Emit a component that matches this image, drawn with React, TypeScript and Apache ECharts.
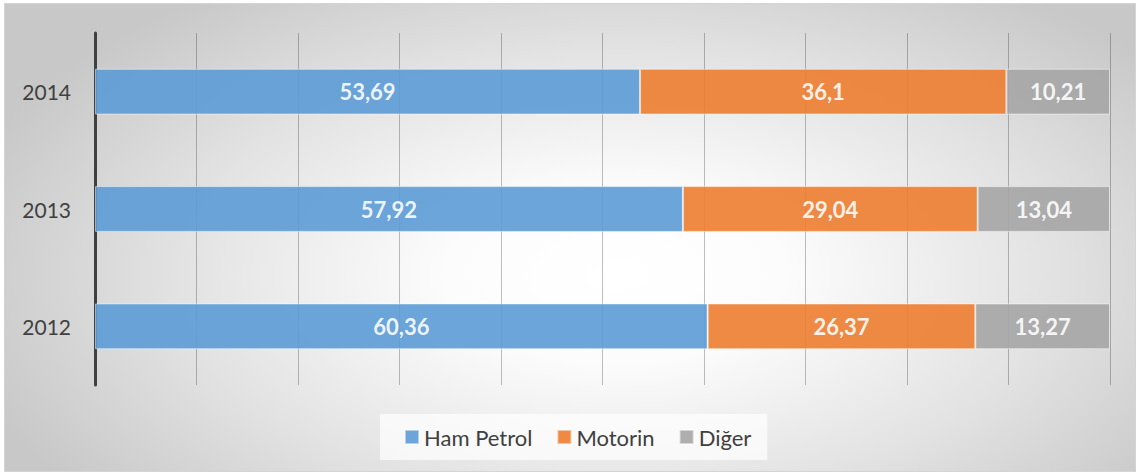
import React, { useEffect, useRef } from "react";
import * as echarts from "echarts";

const categories = ["2012", "2013", "2014"];
const hamPetrol = [60.36, 57.92, 53.69];
const motorin = [26.37, 29.04, 36.1];
const diger = [13.27, 13.04, 10.21];
const seriesNames = ["Ham Petrol", "Motorin", "Diğer"];

const FONT = "Lato, 'Open Sans', 'Noto Sans', sans-serif";

export default function App() {
  const ref = useRef<HTMLDivElement>(null);

  useEffect(() => {
    document.body.style.margin = "0";
    if (!ref.current) return;
    const chart = echarts.init(ref.current, null, { renderer: "svg" });
    const fmt = (p: any) => String(p.value).replace(".", ",");
    const mk = (name: string, data: number[], color: string) => ({
      name,
      type: "bar",
      stack: "total",
      data,
      barWidth: "39%",
      itemStyle: {
        color,
        opacity: 0.9,
        borderColor: "rgba(255,255,255,0.55)",
        borderWidth: 1,
      },
      label: {
        show: true,
        position: "inside",
        color: "#ffffff",
        fontFamily: FONT,
        fontWeight: "bold",
        fontSize: 22,
        formatter: fmt,
      },
    });
    chart.setOption({
      animation: false,
      backgroundColor: "transparent",
      textStyle: { fontFamily: FONT },
      grid: { left: 95, right: 30, top: 33, bottom: 91, containLabel: false },
      xAxis: {
        type: "value",
        min: 0,
        max: 100,
        interval: 10,
        axisLabel: { show: false },
        axisLine: { show: false },
        axisTick: { show: false },
        splitLine: { show: true, lineStyle: { color: "rgba(0,0,0,0.25)", width: 1 } },
      },
      yAxis: {
        type: "category",
        data: categories,
        axisLine: { show: true, lineStyle: { color: "#404040", width: 3 } },
        axisTick: { show: false },
        axisLabel: { color: "#404040", fontSize: 21, fontFamily: FONT, margin: 24 },
      },
      legend: {
        data: seriesNames,
        bottom: 16,
        left: 380,
        icon: "rect",
        itemWidth: 14,
        itemHeight: 14,
        itemGap: 24,
        padding: [12, 16, 12, 24],
        backgroundColor: "rgba(255,255,255,0.7)",
        textStyle: { color: "#404040", fontSize: 22, fontFamily: FONT },
      },
      series: [
        mk(seriesNames[0], hamPetrol, "#5b9bd5"),
        mk(seriesNames[1], motorin, "#ed7d31"),
        mk(seriesNames[2], diger, "#a5a5a5"),
      ],
    });
    return () => chart.dispose();
  }, []);

  return (
    <div style={{ position: "relative", width: 1140, height: 476, background: "#ffffff" }}>
      <div
        style={{
          position: "absolute",
          left: 4,
          top: 3,
          width: 1130,
          height: 467,
          border: "1px solid #d4d4d4",
          background:
            "radial-gradient(ellipse 60% 75% at 54% 58%, #ffffff 0%, #fcfcfc 25%, #e2e2e2 65%, #c8c8c8 100%)",
        }}
      />
      <div ref={ref} style={{ position: "absolute", left: 0, top: 0, width: 1140, height: 476 }} />
    </div>
  );
}
